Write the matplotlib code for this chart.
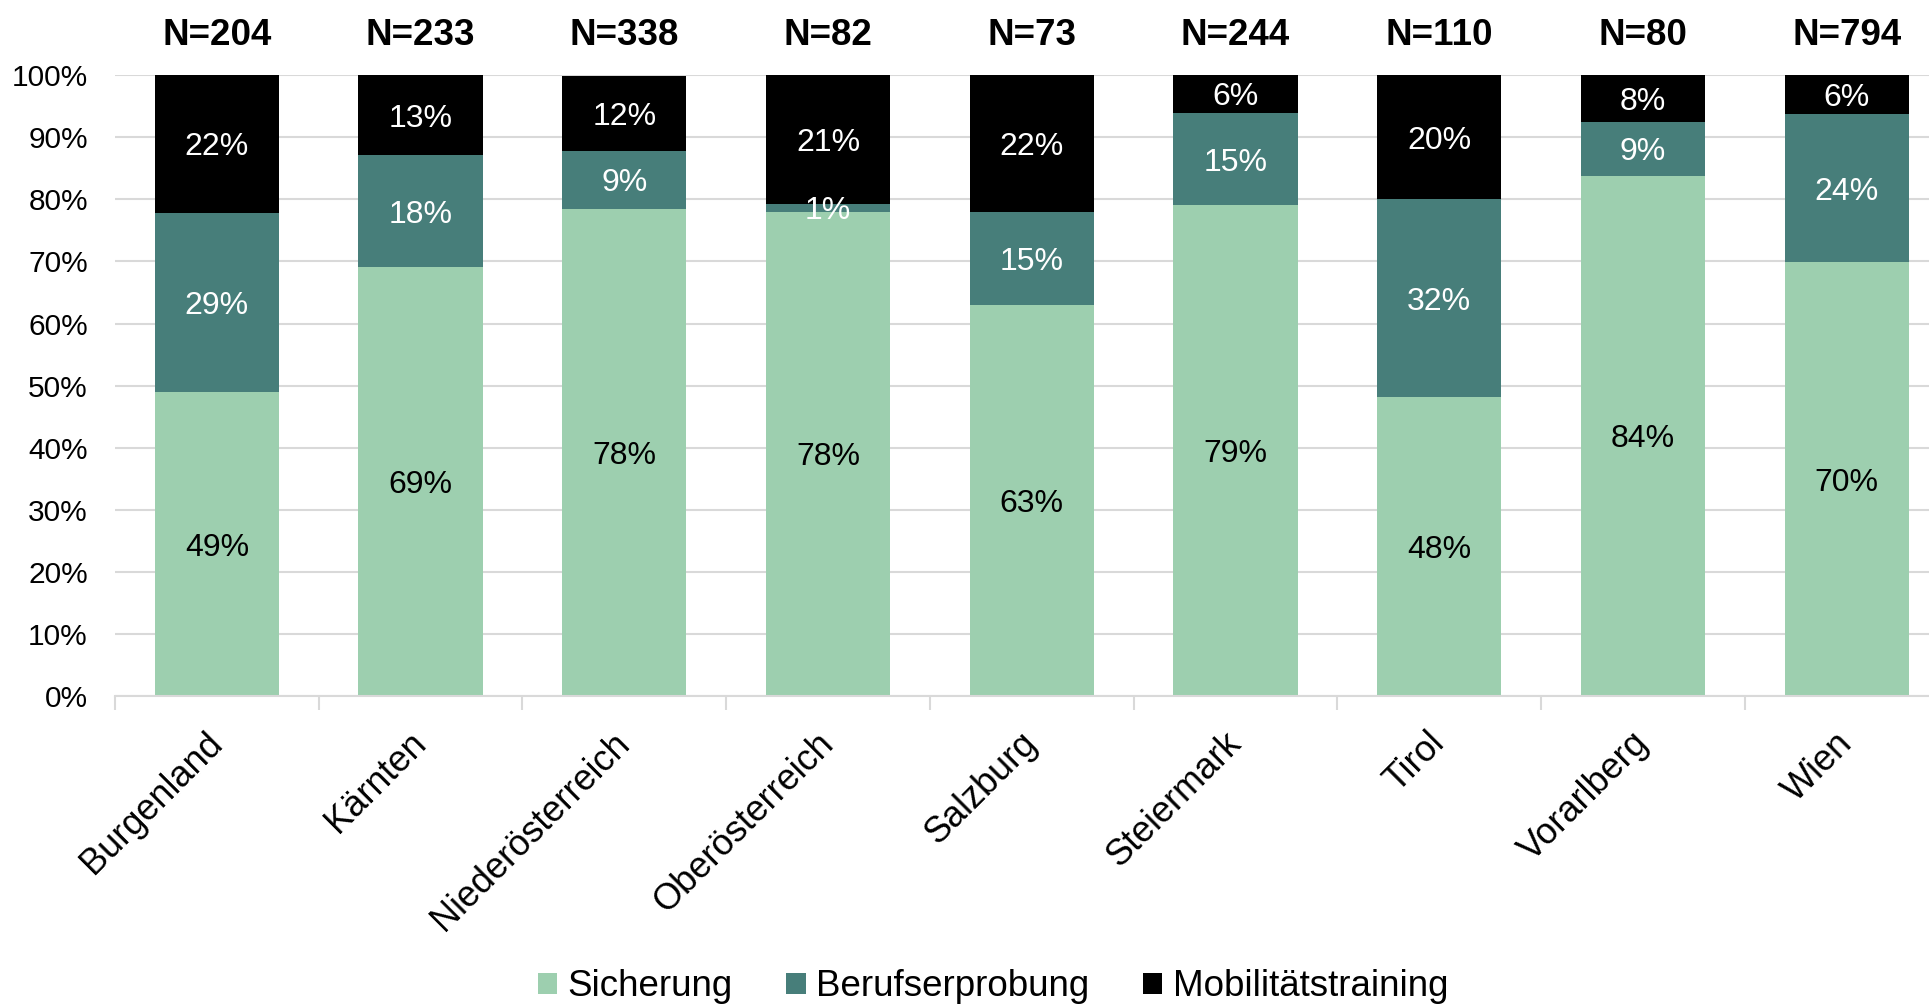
import matplotlib
matplotlib.use("Agg")
import matplotlib.pyplot as plt
from matplotlib.ticker import FixedLocator, PercentFormatter
from matplotlib.patches import Patch
import numpy as np

plt.rcParams['font.family'] = ['Liberation Sans', 'DejaVu Sans']

categories = ["Burgenland", "Kärnten", "Niederösterreich", "Oberösterreich",
              "Salzburg", "Steiermark", "Tirol", "Vorarlberg", "Wien"]
n_values = [204, 233, 338, 82, 73, 244, 110, 80, 794]
sicherung = [48.9, 69.1, 78.4, 78.0, 63.0, 79.0, 48.1, 83.8, 69.9]
berufserprobung = [28.9, 18.0, 9.4, 1.2, 15.0, 14.9, 31.9, 8.6, 23.8]
mobilitaet = [22.2, 12.9, 12.1, 20.8, 22.0, 6.1, 20.0, 7.6, 6.3]
series_names = ["Sicherung", "Berufserprobung", "Mobilitätstraining"]
colors = ["#9dcfaf", "#477e7a", "#000000"]
label_colors = ["black", "white", "white"]

W, H = 1929, 1007
fig = plt.figure(figsize=(W / 100, H / 100), dpi=100)
ax = fig.add_axes([115 / W, (H - 696.3) / H, 1833.6 / W, 621.3 / H])

x = np.arange(len(categories))
bottom = np.zeros(len(categories))
for vals, name, col, lc in zip([sicherung, berufserprobung, mobilitaet],
                               series_names, colors, label_colors):
    vals = np.array(vals)
    ax.bar(x, vals, width=0.61, bottom=bottom, color=col, label=name, zorder=2)
    for xi, b, v in zip(x, bottom, vals):
        ax.text(xi, b + v / 2, f"{v:.0f}%", ha="center", va="center_baseline",
                color=lc, fontsize=23, zorder=3)
    bottom += vals

for xi, n in zip(x, n_values):
    ax.text(xi, 106.3, f"N={n}", ha="center", va="center", fontsize=26.5,
            fontweight="bold", clip_on=False)

ax.set_xlim(-0.5, len(categories) - 0.5)
ax.set_ylim(0, 100)
ax.yaxis.set_major_locator(FixedLocator(np.arange(0, 101, 10)))
ax.yaxis.set_major_formatter(PercentFormatter(decimals=0))
ax.tick_params(axis="y", length=0, labelsize=21.5, pad=19.5)
ax.grid(axis="y", color="#d9d9d9", linewidth=1.5, zorder=0)
ax.set_axisbelow(True)

for s in ["top", "right", "left"]:
    ax.spines[s].set_visible(False)
ax.spines["bottom"].set_color("#d9d9d9")
ax.spines["bottom"].set_linewidth(1.5)

ax.set_xticks(x)
ax.set_xticklabels(categories, rotation=45, ha="right", va="center",
                   rotation_mode="anchor", fontsize=26)
ax.tick_params(axis="x", which="major", length=0, pad=30)
ax.set_xticks(np.arange(-0.5, len(categories), 1), minor=True)
ax.tick_params(axis="x", which="minor", length=10, width=1.5, color="#d9d9d9")

handles = [Patch(facecolor=c, label=n) for c, n in zip(colors, series_names)]
fig.legend(handles=handles, loc="center", bbox_to_anchor=(993 / W, 1 - 987 / H),
           ncol=3, frameon=False, fontsize=26.5, handlelength=0.53,
           handleheight=0.53, handletextpad=0.28, columnspacing=1.45,
           borderpad=0, borderaxespad=0)

fig.savefig("out.png", dpi=100)
